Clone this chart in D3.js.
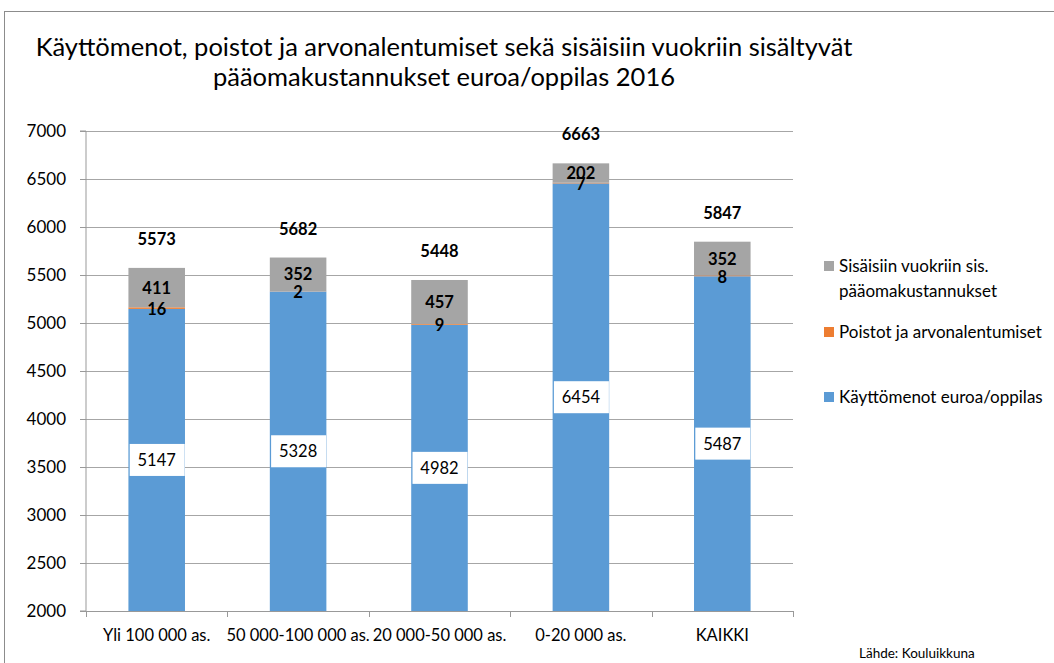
<!DOCTYPE html>
<html>
<head>
<meta charset="utf-8">
<script src="https://cdn.jsdelivr.net/npm/d3@7"></script>
<style>
  body { margin: 0; background: #fff; }
  text { font-family: Lato, "Liberation Sans", sans-serif; fill: #000; }
</style>
</head>
<body>
<div id="chart"></div>
<script>
// data
var categories = ["Yli 100 000 as.", "50 000-100 000 as.", "20 000-50 000 as.", "0-20 000 as.", "KAIKKI"];
var kayttomenot = [5147, 5328, 4982, 6454, 5487];
var poistot = [16, 2, 9, 7, 8];
var vuokrat = [411, 352, 457, 202, 352];
var totals = [5573, 5682, 5448, 6663, 5847];
var yTicks = [2000, 2500, 3000, 3500, 4000, 4500, 5000, 5500, 6000, 6500, 7000];
var colors = ["#5B9BD5", "#ED7D31", "#A5A5A5"];

var svgWidth = 1054;
var svgHeight = 663;
var margin = { top: 131, left: 86, right: 261, bottom: 52 };
var width = svgWidth - margin.left - margin.right;
var height = svgHeight - margin.top - margin.bottom;

var svg = d3.select("#chart").append("svg")
  .attr("width", svgWidth)
  .attr("height", svgHeight);

// outer frame
svg.append("rect")
  .attr("x", 4.5).attr("y", 11.5)
  .attr("width", svgWidth + 10).attr("height", svgHeight + 10)
  .attr("fill", "none").attr("stroke", "#8c8c8c");

// title
var title = svg.append("text")
  .attr("text-anchor", "middle")
  .style("font-size", "25.5px");
title.append("tspan").attr("x", 444).attr("y", 56)
  .text("Käyttömenot, poistot ja arvonalentumiset sekä sisäisiin vuokriin sisältyvät");
title.append("tspan").attr("x", 444).attr("y", 86)
  .text("pääomakustannukset euroa/oppilas 2016");

var g = svg.append("g").attr("transform", `translate(${margin.left},${margin.top})`);

var x = d3.scaleBand().domain(categories).range([0, width]).paddingInner(0.6).paddingOuter(0.3);
var xTick = d3.scaleBand().domain(categories).range([0, width]);
var y = d3.scaleLinear().domain([2000, 7000]).range([height, 0]);

// gridlines
g.selectAll(".grid").data(yTicks.slice(1)).enter().append("line")
  .attr("x1", 0).attr("x2", width)
  .attr("y1", d => Math.round(y(d)) + 0.5).attr("y2", d => Math.round(y(d)) + 0.5)
  .attr("stroke", "#a6a6a6").attr("stroke-width", 1);

// y axis
var yAxis = g.append("g")
  .call(d3.axisLeft(y).tickValues(yTicks).tickSize(6).tickPadding(14).tickFormat(d3.format("d")));
yAxis.select(".domain").attr("stroke", "#999").attr("d", `M-6,${height}H0V0H-6`);
yAxis.selectAll(".tick line").attr("stroke", "#999");
yAxis.selectAll(".tick text").style("font-size", "17px").attr("font-family", null);

// x axis
var xAxis = g.append("g").attr("transform", `translate(0,${height})`);
xAxis.append("line").attr("x1", 0).attr("x2", width).attr("y1", 0.5).attr("y2", 0.5).attr("stroke", "#999");
xAxis.selectAll(".xt").data(categories.concat(["end"])).enter().append("line")
  .attr("x1", (d, i) => Math.round(i * xTick.bandwidth()) + 0.5)
  .attr("x2", (d, i) => Math.round(i * xTick.bandwidth()) + 0.5)
  .attr("y1", 0).attr("y2", 6).attr("stroke", "#999");
xAxis.selectAll(".xl").data(categories).enter().append("text")
  .attr("x", d => xTick(d) + xTick.bandwidth() / 2)
  .attr("y", 30)
  .attr("text-anchor", "middle")
  .style("font-size", "16.5px")
  .text(d => d);

// stacked bars
var rows = categories.map((c, i) => ({ cat: c, a: kayttomenot[i], b: poistot[i], c: vuokrat[i] }));
var stack = d3.stack().keys(["a", "b", "c"]);
var layers = stack(rows);

layers.forEach(function(layer, li) {
  g.selectAll(".bar" + li).data(layer).enter().append("rect")
    .attr("x", d => x(d.data.cat))
    .attr("width", x.bandwidth())
    .attr("y", d => y(Math.max(d[1], 2000)))
    .attr("height", d => y(Math.max(d[0], 2000)) - y(Math.max(d[1], 2000)))
    .attr("fill", colors[li]);
});

// blue labels in white boxes
layers[0].forEach(function(d) {
  var cx = x(d.data.cat) + x.bandwidth() / 2;
  var cy = y((Math.max(d[0], 2000) + d[1]) / 2);
  g.append("rect").attr("x", cx - 27).attr("y", cy - 16).attr("width", 55).attr("height", 32).attr("fill", "#fff");
  g.append("text").attr("x", cx).attr("y", cy + 6).attr("text-anchor", "middle")
    .style("font-size", "16.5px").text(d.data.a);
});

// orange and gray labels (bold)
[1, 2].forEach(function(li) {
  var key = li === 1 ? "b" : "c";
  layers[li].forEach(function(d) {
    g.append("text")
      .attr("x", x(d.data.cat) + x.bandwidth() / 2)
      .attr("y", y((d[0] + d[1]) / 2) + (li === 1 ? 7 : 6))
      .attr("text-anchor", "middle")
      .style("font-size", "16.5px").style("font-weight", "bold")
      .text(d.data[key]);
  });
});

// totals
g.selectAll(".total").data(categories).enter().append("text")
  .attr("x", d => x(d) + x.bandwidth() / 2)
  .attr("y", (d, i) => y(totals[i]) - 23)
  .attr("text-anchor", "middle")
  .style("font-size", "16.5px").style("font-weight", "bold")
  .text((d, i) => totals[i]);

// legend
var legendItems = [
  { lines: ["Sisäisiin vuokriin sis.", "pääomakustannukset"], color: colors[2], y: 266 },
  { lines: ["Poistot ja arvonalentumiset"], color: colors[1], y: 332 },
  { lines: ["Käyttömenot euroa/oppilas"], color: colors[0], y: 397 }
];
legendItems.forEach(function(item) {
  svg.append("rect").attr("x", 824).attr("y", item.y - 5).attr("width", 10).attr("height", 10).attr("fill", item.color);
  var t = svg.append("text").style("font-size", "17px");
  item.lines.forEach(function(line, i) {
    t.append("tspan").attr("x", 839).attr("y", item.y + 6 + i * 25).text(line);
  });
});

// source
svg.append("text").attr("x", 859).attr("y", 658).style("font-size", "13.5px").text("Lähde: Kouluikkuna");
</script>
</body>
</html>
